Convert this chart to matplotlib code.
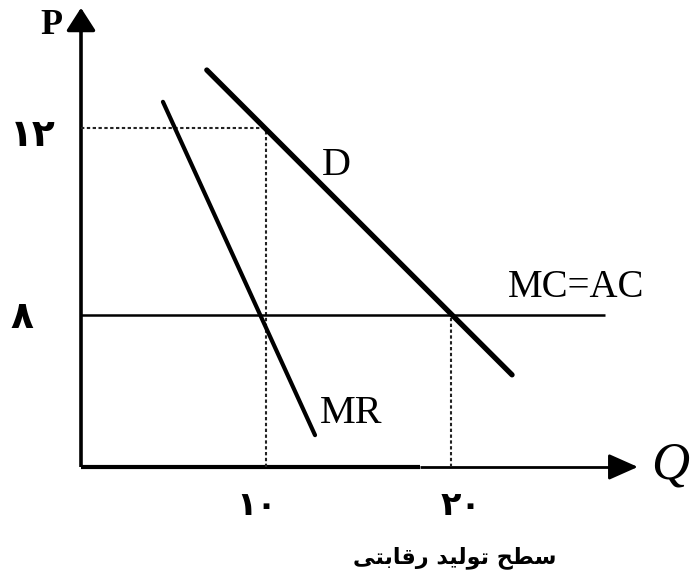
import matplotlib
matplotlib.use("Agg")
import matplotlib.pyplot as plt

# ---------------- data ----------------
# Demand curve D (Q, P) end points
demand_q = [6.8, 23.3]
demand_p = [13.24, 6.72]
# Marginal revenue MR (Q, P) end points
mr_q = [4.43, 12.65]
mr_p = [12.56, 5.43]
# MC = AC horizontal level
mc_level = 8
mc_q = [0, 28.3]
# Equilibria
monopoly_q, monopoly_p = 10, 12
competitive_q = 20
# Tick labels (Persian digits)
q_ticks = [10, 20]
q_labels = ["\u06f1\u06f0", "\u06f2\u06f0"]          # ۱۰ , ۲۰
p_ticks = [12, 8]
p_labels = ["\u06f1\u06f2", "\u06f8"]                # ۱۲ , ۸
# Axis extents (data units)
axis_p0 = 4.75
axis_q_end = 30.1
axis_p_end = 14.57
axis_q_thick_end = 18.3
# Caption: "سطح تولید رقابتی" shaped into presentation forms, visual order
caption_logical_forms = ["\ufeb3", "\ufec4", "\ufea2", " ",
                         "\ufe97", "\ufeee", "\ufedf", "\ufef4", "\ufeaa", " ",
                         "\ufead", "\ufed7", "\ufe8e", "\ufe91", "\ufe98", "\ufef0"]
caption = "".join(reversed(caption_logical_forms))

# ---------------- figure ----------------
W, H = 690, 580
fig = plt.figure(figsize=(W / 100, H / 100), dpi=100)
ax = fig.add_axes([0, 0, 1, 1])
ax.axis("off")

# pixel scale: 18.5 px per Q unit, 46.75 px per P unit; origin Q=0 at x=81, P=8 at y=315
xs, ys = 18.5, 46.75
ax.set_xlim(-81 / xs, (W - 81) / xs)
ax.set_ylim(8 - (H - 315) / ys, 8 + 315 / ys)

serif = "Liberation Serif"
fa = ["DejaVu Sans"]

# axes
ax.plot([0, 0], [axis_p0, axis_p_end - 0.3], color="black", lw=2.6, solid_capstyle="butt")
ax.annotate("", xy=(0, axis_p_end), xytext=(0, axis_p_end - 0.5),
            arrowprops=dict(arrowstyle="-|>,head_length=14,head_width=9", mutation_scale=1,
                            color="black", lw=2.5, shrinkA=0, shrinkB=0))
ax.plot([0, axis_q_thick_end], [axis_p0, axis_p0], color="black", lw=3.0, solid_capstyle="butt")
ax.plot([axis_q_thick_end, axis_q_end - 0.5], [axis_p0, axis_p0], color="black", lw=2.0,
        solid_capstyle="butt")
ax.annotate("", xy=(axis_q_end, axis_p0), xytext=(axis_q_end - 1.0, axis_p0),
            arrowprops=dict(arrowstyle="-|>,head_length=18,head_width=8", mutation_scale=1,
                            color="black", lw=2.0, shrinkA=0, shrinkB=0))

# dotted guide lines
dot = dict(color="#222222", lw=1.5, linestyle=(0, (1.6, 1.2)))
ax.plot([0, monopoly_q], [monopoly_p, monopoly_p], **dot)
ax.plot([monopoly_q, monopoly_q], [axis_p0, monopoly_p], **dot)
ax.plot([competitive_q, competitive_q], [axis_p0, mc_level], **dot)

# curves
ax.plot(mc_q, [mc_level, mc_level], color="black", lw=1.8, solid_capstyle="butt")
ax.plot(demand_q, demand_p, color="black", lw=3.8, solid_capstyle="round")
ax.plot(mr_q, mr_p, color="black", lw=3.0, solid_capstyle="round")

# curve labels
ax.text(13.78, 11.19, "D", family=serif, fontsize=29, ha="center", va="center")
ax.text(26.76, 8.58, "MC=AC", family=serif, fontsize=28, ha="center", va="center")
ax.text(14.6, 5.90, "MR", family=serif, fontsize=29, ha="center", va="center")

# axis titles
ax.annotate("P", xy=(0, axis_p_end), xytext=(-21, -13), textcoords="offset points",
            family=serif, fontsize=26, fontweight="bold", ha="center", va="center")
ax.annotate("Q", xy=(axis_q_end, axis_p0), xytext=(23, 1), textcoords="offset points",
            family=serif, fontsize=38, style="italic", ha="center", va="center")

# tick labels
q_dx = [-7, 7]
for q, lab, dx in zip(q_ticks, q_labels, q_dx):
    ax.annotate(lab, xy=(q, axis_p0), xytext=(dx, -28), textcoords="offset points",
                family=fa, fontsize=24, fontweight="bold", ha="center", va="center")
p_dy = [-6, -2]
for p, lab, dy in zip(p_ticks, p_labels, p_dy):
    ax.annotate(lab, xy=(0, p), xytext=(-51, dy), textcoords="offset points",
                family=fa, fontsize=27, fontweight="bold", ha="left", va="center")

# caption
ax.annotate(caption, xy=(0, 0), xycoords="figure pixels", xytext=(455, H - 558),
            textcoords="figure pixels", family=fa, fontsize=16, fontweight="bold",
            ha="center", va="center")

fig.savefig("out.png", dpi=100)
